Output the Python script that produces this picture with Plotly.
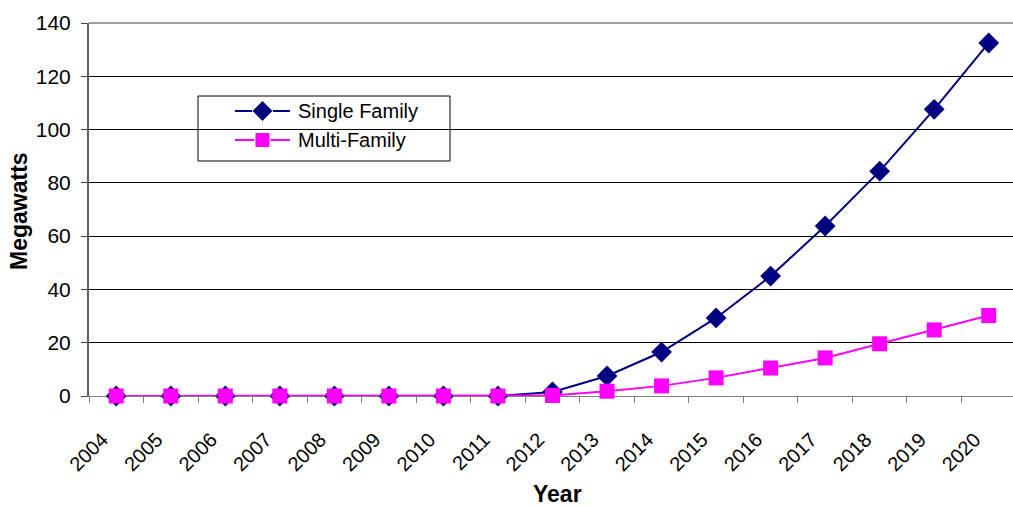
import plotly.graph_objects as go

years = list(range(2004, 2021))
year_labels = [str(y) for y in years]
single_family = [0, 0, 0, 0, 0, 0, 0, 0, 1.5, 7.5, 16.5, 29.3, 45.0, 63.8, 84.4, 107.6, 132.5]
multi_family = [0, 0, 0, 0, 0, 0, 0, 0, 0.2, 1.8, 3.8, 6.8, 10.5, 14.3, 19.6, 24.8, 30.2]
y_ticks = [0, 20, 40, 60, 80, 100, 120, 140]
series_names = ["Single Family", "Multi-Family"]

FONT = "Liberation Sans, Arial, sans-serif"
NAVY = "#000080"
MAGENTA = "#FF00FF"

W, H = 1013, 506
L, R, T, B = 89, 0, 23, 110
PW, PH = W - L - R, H - T - B
X0, X1 = years[0] - 0.5, years[-1] + 0.445
Y0, Y1 = 0, 140


def px(x):
    return (x - L) / PW


def py(y):
    return (H - B - y) / PH


def dx(x):
    return X0 + (x - L) / PW * (X1 - X0)


def dy(y):
    return Y0 + (H - B - y) / PH * (Y1 - Y0)


fig = go.Figure()
fig.add_trace(go.Scatter(
    x=years, y=single_family, name=series_names[0], mode="lines+markers",
    line=dict(color=NAVY, width=2),
    marker=dict(symbol="diamond", size=16, color=NAVY, opacity=1),
    cliponaxis=False, showlegend=False,
))
fig.add_trace(go.Scatter(
    x=years, y=multi_family, name=series_names[1], mode="lines+markers",
    line=dict(color=MAGENTA, width=2),
    marker=dict(symbol="square", size=15, color=MAGENTA, opacity=1),
    cliponaxis=False, showlegend=False,
))

# legend (manual, Excel style)
leg_x0, leg_x1, leg_y0, leg_y1 = 198, 450, 96, 161
row_y = [111, 140]
line_x0, line_x1 = 235, 290
colors = [NAVY, MAGENTA]
symbols = ["diamond", "square"]
sizes = [16, 15]
fig.add_shape(type="rect", xref="paper", yref="paper",
              x0=px(leg_x0), x1=px(leg_x1), y0=py(leg_y1), y1=py(leg_y0),
              line=dict(color="black", width=1), fillcolor="white", layer="between")
for i in range(2):
    fig.add_trace(go.Scatter(
        x=[dx(line_x0), dx((line_x0 + line_x1) / 2), dx(line_x1)],
        y=[dy(row_y[i])] * 3, mode="lines+markers", showlegend=False,
        hoverinfo="skip",
        line=dict(color=colors[i], width=2),
        marker=dict(symbol=symbols[i], size=[0, sizes[i], 0], color=colors[i],
                    opacity=1),
    ))
    fig.add_annotation(x=px(296), y=py(row_y[i]), xref="paper", yref="paper",
                       text=series_names[i], showarrow=False, xanchor="left",
                       yanchor="middle", font=dict(size=20, color="black"))

boundaries = [y - 0.5 for y in years] + [years[-1] + 0.5]

fig.update_layout(
    width=W, height=H,
    margin=dict(l=L, r=R, t=T, b=B, autoexpand=False),
    paper_bgcolor="white", plot_bgcolor="white",
    font=dict(family=FONT, size=20, color="black"),
    showlegend=False,
    xaxis=dict(
        range=[X0, X1], tickmode="array", tickvals=years, ticktext=year_labels,
        tickangle=-45, ticks="", ticklabelstandoff=23, ticklabelshift=-14,
        minor=dict(tickmode="array", tickvals=boundaries, ticks="outside",
                   ticklen=6, tickcolor="#808080", showgrid=False),
        showline=True, linecolor="#808080", linewidth=1,
        showgrid=False, zeroline=False, automargin=False,
        layer="below traces",
        tickfont=dict(size=20),
    ),
    yaxis=dict(
        range=[Y0, Y1], tickvals=y_ticks,
        ticks="outside", ticklen=6, tickcolor="#404040",
        showline=True, linecolor="#606060", linewidth=2,
        showgrid=True, gridcolor="black", gridwidth=1,
        zeroline=False, automargin=False,
        layer="below traces",
        ticklabelstandoff=6,
        tickfont=dict(size=21),
    ),
)

fig.add_shape(type="line", xref="paper", yref="paper", x0=0, x1=1, y0=1, y1=1,
              line=dict(color="#A0A0A0", width=2), layer="above")

fig.add_annotation(x=px(557), y=py(494), xref="paper", yref="paper",
                   text="<b>Year</b>", showarrow=False, font=dict(size=23),
                   xanchor="center", yanchor="middle")
fig.add_annotation(x=px(19), y=py(211), xref="paper", yref="paper",
                   text="<b>Megawatts</b>", showarrow=False, font=dict(size=23),
                   textangle=-90, xanchor="center", yanchor="middle")

fig.write_html("out.html", config={"displayModeBar": False},
               post_script="document.body.style.margin='0';")
